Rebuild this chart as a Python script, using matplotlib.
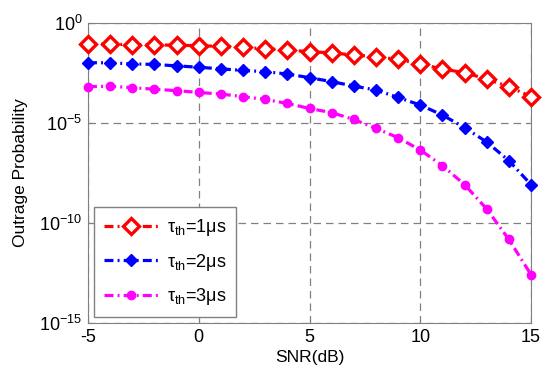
import matplotlib
matplotlib.use("Agg")
import matplotlib.pyplot as plt
import numpy as np

snr = list(range(-5, 16))
log_tau1 = [-1.05, -1.06, -1.08, -1.09, -1.11, -1.13, -1.17, -1.22, -1.28, -1.35, -1.43,
            -1.49, -1.60, -1.68, -1.82, -2.05, -2.30, -2.48, -2.80, -3.18, -3.68]
log_tau2 = [-1.98, -1.99, -2.04, -2.07, -2.14, -2.21, -2.29, -2.37, -2.43, -2.55, -2.73,
            -2.93, -3.15, -3.35, -3.72, -4.10, -4.60, -5.23, -5.95, -6.88, -8.08]
log_tau3 = [-3.18, -3.16, -3.23, -3.31, -3.38, -3.47, -3.55, -3.68, -3.82, -4.02, -4.27,
            -4.48, -4.82, -5.27, -5.73, -6.35, -7.13, -8.08, -9.30, -10.82, -12.58]
labels = [r'$\tau_{th}$=1$\mu$s', r'$\tau_{th}$=2$\mu$s', r'$\tau_{th}$=3$\mu$s']
yticks = [1e0, 1e-5, 1e-10, 1e-15]
xticks = [-5, 0, 5, 10, 15]

plt.rcParams['font.family'] = ['Liberation Sans', 'DejaVu Sans']
plt.rcParams['mathtext.fontset'] = 'custom'
plt.rcParams['mathtext.rm'] = 'Liberation Sans'
plt.rcParams['mathtext.it'] = 'Liberation Sans'
plt.rcParams['mathtext.default'] = 'regular'
plt.rcParams['axes.unicode_minus'] = False

fig = plt.figure(figsize=(5.5, 3.78), dpi=100)
ax = fig.add_axes([0.16, 0.1455, 0.8055, 0.7935])

y1 = 10 ** np.array(log_tau1)
y2 = 10 ** np.array(log_tau2)
y3 = 10 ** np.array(log_tau3)

dd = (0, (2.8, 1.3, 0.6, 1.3))
ax.plot(snr, y1, color='red', linestyle=dd, linewidth=2.3, marker='D',
        markersize=8.5, markerfacecolor='white', markeredgecolor='red', markeredgewidth=2.4,
        label=labels[0], clip_on=False, zorder=3)
ax.plot(snr, y2, color='blue', linestyle=dd, linewidth=2.3, marker='D',
        markersize=6.5, markerfacecolor='blue', markeredgecolor='blue', label=labels[1],
        clip_on=False, zorder=3)
ax.plot(snr, y3, color='magenta', linestyle=dd, linewidth=2.3, marker='o',
        markersize=6, markerfacecolor='magenta', markeredgecolor='magenta', label=labels[2],
        clip_on=False, zorder=3)

ax.set_yscale('log')
ax.set_xlim(-5, 15)
ax.set_ylim(1e-15, 1e0)
ax.set_xticks(xticks)
ax.set_yticks(yticks)
ax.set_yticks([], minor=True)
ax.tick_params(direction='in', length=3, labelsize=13, colors='#808080', labelcolor='black',
               pad=4)
for s in ax.spines.values():
    s.set_color('#808080')
ax.grid(True, which='major', color='#808080', linestyle=(0, (6, 4)), linewidth=0.9)

ax.set_xlabel('SNR(dB)', fontsize=12.5, labelpad=3)
ax.set_ylabel('Outrage Probability', fontsize=12.5)
ax.yaxis.set_label_coords(-0.135, 0.503)

leg = ax.legend(loc='lower left', bbox_to_anchor=(0.013, 0.02), borderaxespad=0,
                fontsize=13, fancybox=False, framealpha=1, edgecolor='#808080',
                handlelength=3.0, labelspacing=0.75, borderpad=0.55, handletextpad=0.5)
leg.get_frame().set_linewidth(1.0)

fig.savefig('out.png', dpi=100)
